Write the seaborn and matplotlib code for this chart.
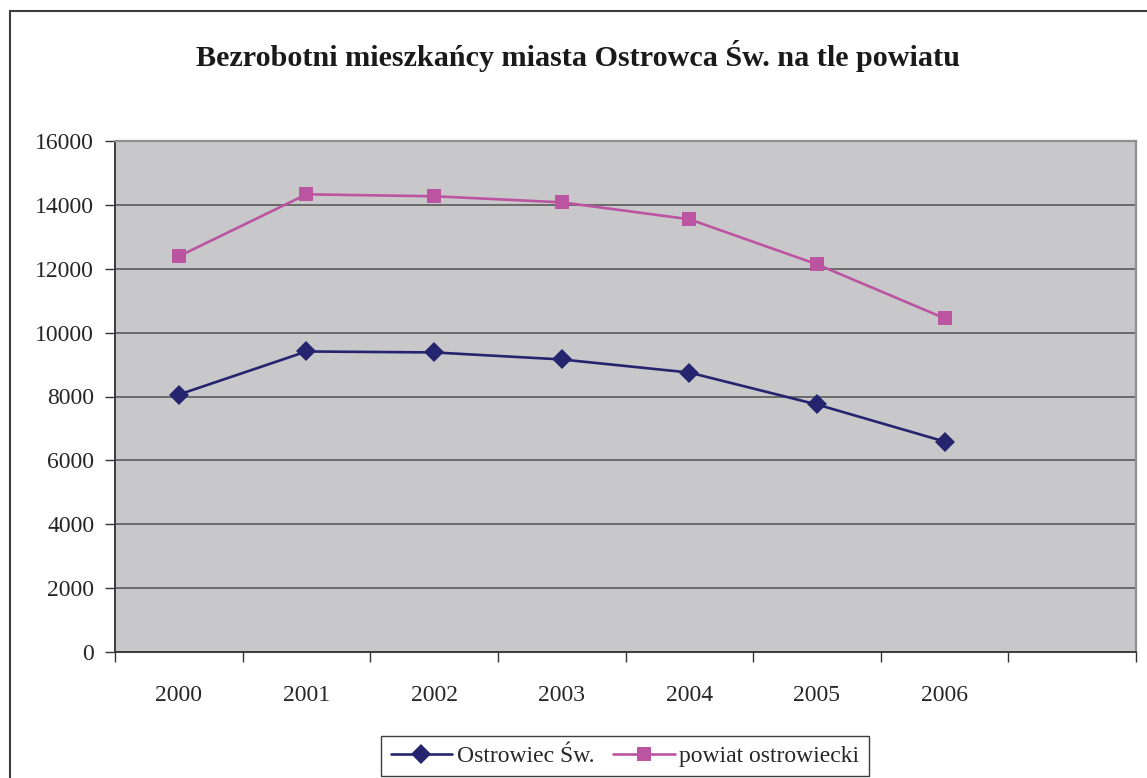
import pandas as pd
import numpy as np
import matplotlib
matplotlib.use('Agg')
import matplotlib.pyplot as plt
from matplotlib.patches import Rectangle
import seaborn as sns

years = ['2000', '2001', '2002', '2003', '2004', '2005', '2006']
ostrowiec = [8060, 9410, 9380, 9160, 8750, 7750, 6590]
powiat = [12390, 14330, 14270, 14080, 13550, 12140, 10450]
series_names = ['Ostrowiec Św.', 'powiat ostrowiecki']

df = pd.DataFrame({
    'rok': years * 2,
    'liczba': ostrowiec + powiat,
    'seria': [series_names[0]] * len(years) + [series_names[1]] * len(years),
})

sns.set_style('white')
plt.rcParams['font.family'] = ['Liberation Serif', 'DejaVu Serif']

fig = plt.figure(figsize=(11.47, 7.78), dpi=100)
ax = fig.add_axes([115 / 1147, 1 - 652 / 778, (1136 - 115) / 1147, (652 - 141) / 778])
ax.set_facecolor('#c8c8ca')

colors = {series_names[0]: '#25256f', series_names[1]: '#bb55a2'}
markers = {series_names[0]: 'D', series_names[1]: 's'}
sns.lineplot(data=df, x='rok', y='liczba', hue='seria', style='seria',
             palette=colors, markers=markers, dashes=False, ax=ax,
             linewidth=1.9, markersize=10.5, markeredgewidth=0, zorder=3)

ax.set_xlim(-0.5, 7.5)
ax.set_ylim(0, 16000)
ax.set_yticks(np.arange(0, 16001, 2000))
ax.yaxis.grid(True, color='#505050', linewidth=1.1)
ax.set_axisbelow(True)
ax.set_xlabel('')
ax.set_ylabel('')

ax.set_xticks(range(len(years)))
ax.set_xticklabels(years)
ax.set_xticks(np.arange(-0.5, 8, 1), minor=True)
ax.tick_params(axis='x', which='major', length=0, pad=24, labelsize=17)
ax.tick_params(axis='x', which='minor', length=7, width=1, color='#333333', direction='out', bottom=True)
ax.tick_params(axis='y', which='major', length=7, width=1, color='#333333', direction='out', left=True, pad=8, labelsize=17)

for s in ['left', 'bottom']:
    ax.spines[s].set_color('#3c3c3c')
    ax.spines[s].set_linewidth(1.4)
for s in ['top', 'right']:
    ax.spines[s].set_color('#909090')
    ax.spines[s].set_linewidth(1.6)

fig.text(0.5 + 5 / 1147, 1 - 56 / 778, 'Bezrobotni mieszkańcy miasta Ostrowca Św. na tle powiatu',
         ha='center', va='center', fontsize=21.7, fontweight='bold', color='#1a1a1a')

fig.patches.append(Rectangle((10 / 1147, -0.05), 1.1, 1 - 11 / 778 + 0.05,
                             transform=fig.transFigure, fill=False,
                             edgecolor='#3c3c3c', linewidth=1.5))

handles, labels = ax.get_legend_handles_labels()
ax.legend(handles, labels, loc='center', bbox_to_anchor=(625 / 1147, 1 - 756 / 778),
          bbox_transform=fig.transFigure, ncol=2, frameon=True, fancybox=False,
          edgecolor='#3c3c3c', fontsize=17, handlelength=2.6, handletextpad=0.2,
          columnspacing=0.8, borderpad=0.4, framealpha=1)

fig.savefig('out.png', dpi=100)
